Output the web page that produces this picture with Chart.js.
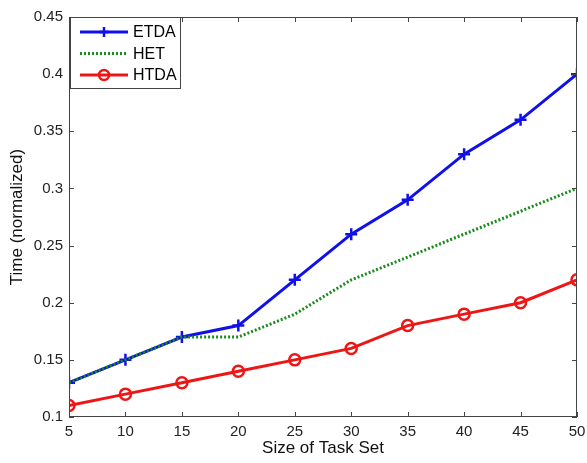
<!DOCTYPE html>
<html lang="en">
<head>
    <meta charset="utf-8">
    <title>Time vs Size of Task Set</title>
    <script src="https://cdn.jsdelivr.net/npm/chart.js@4/dist/chart.umd.min.js"></script>
    <style>
        html, body { margin: 0; padding: 0; background: #fff; }
        #wrap { width: 587px; height: 463px; }
    </style>
</head>
<body>
<div id="wrap"><canvas id="graph"></canvas></div>

<script>
    // Data
    var taskSizes = [5, 10, 15, 20, 25, 30, 35, 40, 45, 50];
    var etda = [0.13, 0.15, 0.17, 0.18, 0.22, 0.26, 0.29, 0.33, 0.36, 0.40];
    var het  = [0.13, 0.15, 0.17, 0.17, 0.19, 0.22, 0.24, 0.26, 0.28, 0.30];
    var htda = [0.11, 0.12, 0.13, 0.14, 0.15, 0.16, 0.18, 0.19, 0.20, 0.22];

    var FONT = "'Liberation Sans', Arial, sans-serif";
    var AXIS_COLOR = "#444";

    function pts(ys) {
        return taskSizes.map(function (x, i) { return { x: x, y: ys[i] }; });
    }

    // pin the axis boxes so the plot area sits where the figure has it
    function fixX(scale) {
        scale.height = 46;
        scale.paddingLeft = scale.paddingRight = 0;
    }
    function fixY(scale) {
        scale.width = 69;
        scale.paddingTop = scale.paddingBottom = 0;
    }

    // MATLAB style box with inward ticks on all four sides + boxed legend
    var matlabBox = {
        id: "matlabBox",
        afterDatasetsDraw: function (chart) {
            var ctx = chart.ctx, a = chart.chartArea;
            var xs = chart.scales.x, ys = chart.scales.y;
            var TL = 5;
            ctx.save();
            ctx.strokeStyle = AXIS_COLOR;
            ctx.lineWidth = 1;
            ctx.strokeRect(a.left + 0.5, a.top + 0.5, a.right - a.left - 1, a.bottom - a.top - 1);
            ctx.beginPath();
            xs.ticks.forEach(function (t) {
                var px = Math.round(xs.getPixelForValue(t.value)) + 0.5;
                ctx.moveTo(px, a.bottom); ctx.lineTo(px, a.bottom - TL);
                ctx.moveTo(px, a.top); ctx.lineTo(px, a.top + TL);
            });
            ys.ticks.forEach(function (t) {
                var py = Math.round(ys.getPixelForValue(t.value)) + 0.5;
                ctx.moveTo(a.left, py); ctx.lineTo(a.left + TL, py);
                ctx.moveTo(a.right, py); ctx.lineTo(a.right - TL, py);
            });
            ctx.stroke();

            // legend
            var lx = a.left + 1, ly = a.top, lw = 110, lh = 71;
            ctx.fillStyle = "#fff";
            ctx.fillRect(lx, ly, lw, lh);
            ctx.strokeStyle = AXIS_COLOR;
            ctx.strokeRect(lx + 0.5, ly + 0.5, lw, lh);
            ctx.font = "16px " + FONT;
            ctx.textBaseline = "middle";
            chart.data.datasets.forEach(function (ds, i) {
                var yy = ly + 15 + i * 21.5;
                var x0 = lx + 10, x1 = lx + 58;
                ctx.strokeStyle = ds.borderColor;
                ctx.lineWidth = ds.borderWidth;
                ctx.setLineDash(ds.borderDash || []);
                ctx.beginPath();
                ctx.moveTo(x0, yy); ctx.lineTo(x1, yy);
                ctx.stroke();
                ctx.setLineDash([]);
                var mx = (x0 + x1) / 2;
                if (ds.pointStyle === "cross") {
                    ctx.beginPath();
                    ctx.moveTo(mx, yy - 5); ctx.lineTo(mx, yy + 5);
                    ctx.moveTo(mx - 5, yy); ctx.lineTo(mx + 5, yy);
                    ctx.lineWidth = 2.5;
                    ctx.stroke();
                } else if (ds.pointStyle === "circle" && ds.pointRadius > 0) {
                    ctx.beginPath();
                    ctx.arc(mx, yy, 5, 0, Math.PI * 2);
                    ctx.lineWidth = 2.5;
                    ctx.stroke();
                }
                ctx.fillStyle = "#000";
                ctx.fillText(ds.label, x1 + 5, yy + 1);
            });
            ctx.restore();
        }
    };

    new Chart(document.getElementById("graph"), {
        type: "line",
        data: {
            datasets: [
                {
                    label: "ETDA",
                    data: pts(etda),
                    borderColor: "#1010e8",
                    backgroundColor: "#1010e8",
                    borderWidth: 3,
                    pointStyle: "cross",
                    pointRadius: 6,
                    pointBorderWidth: 2.5,
                    order: 1
                },
                {
                    label: "HET",
                    data: pts(het),
                    borderColor: "#1a8a1a",
                    borderWidth: 3,
                    borderDash: [2, 2],
                    pointRadius: 0,
                    order: 0
                },
                {
                    label: "HTDA",
                    data: pts(htda),
                    borderColor: "#ee1515",
                    backgroundColor: "rgba(0,0,0,0)",
                    borderWidth: 3,
                    pointStyle: "circle",
                    pointRadius: 5.5,
                    pointBorderWidth: 2.5,
                    order: 2
                }
            ]
        },
        options: {
            responsive: true,
            maintainAspectRatio: false,
            animation: false,
            layout: { padding: { top: 17, right: 10, left: 0, bottom: 0 } },
            plugins: {
                legend: { display: false },
                tooltip: { enabled: false }
            },
            scales: {
                x: {
                    type: "linear",
                    min: 5,
                    max: 50,
                    afterFit: fixX,
                    grid: { display: false, drawTicks: false },
                    border: { display: false },
                    ticks: { stepSize: 5, color: "#222", padding: 7, font: { family: FONT, size: 15, lineHeight: 1 } },
                    title: { display: true, text: "Size of Task Set", color: "#111", padding: { top: 0, bottom: 6.5 }, font: { family: FONT, size: 17, lineHeight: 1 } }
                },
                y: {
                    min: 0.1,
                    max: 0.45,
                    afterFit: fixY,
                    grid: { display: false, drawTicks: false },
                    border: { display: false },
                    ticks: {
                        stepSize: 0.05,
                        color: "#222",
                        padding: 6,
                        font: { family: FONT, size: 15, lineHeight: 1 },
                        callback: function (v) { return String(Number(v.toFixed(2))); }
                    },
                    title: { display: true, text: "Time (normalized)", color: "#111", padding: { top: 8.5, bottom: 0 }, font: { family: FONT, size: 17, lineHeight: 1 } }
                }
            }
        },
        plugins: [matlabBox]
    });
</script>
</body>
</html>
